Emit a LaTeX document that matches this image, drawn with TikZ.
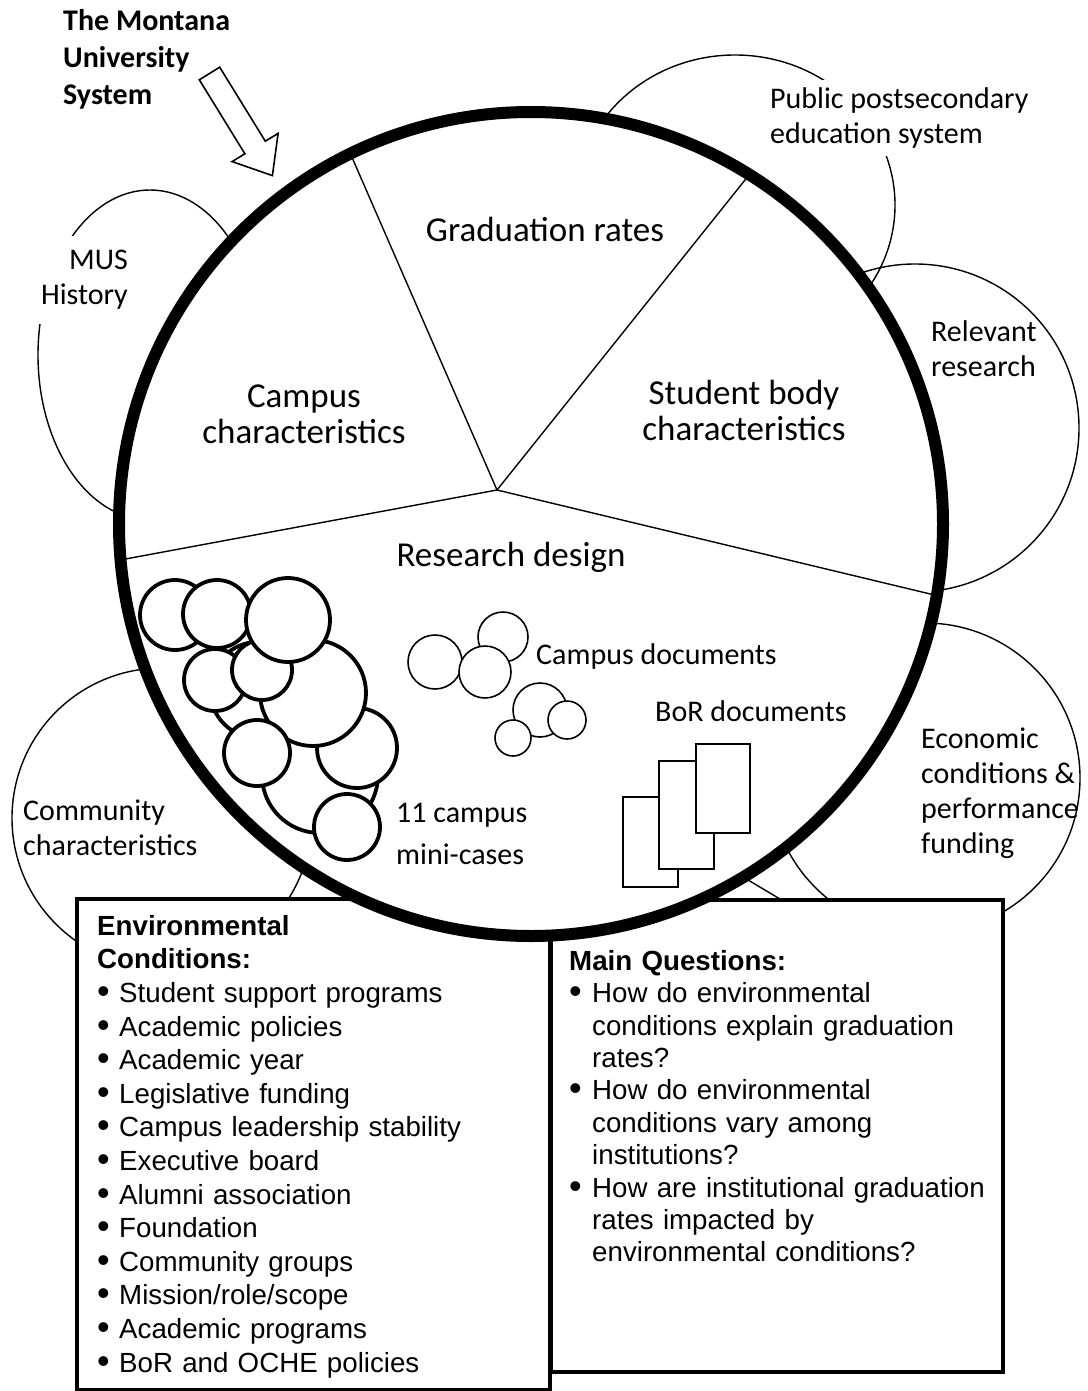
\documentclass[tikz,border=0pt]{standalone}
\usepackage{fontspec}
\setmainfont{Carlito}
\newfontfamily\arialfont{Liberation Sans}
\usetikzlibrary{positioning}

\newcommand{\bitem}[3]{\par\hangindent=#2\hangafter=1\noindent\hspace*{#1}\makebox[\dimexpr#2-#1\relax][l]{\raisebox{-1pt}{\scalebox{1.3}{\textbullet}}}#3}

\begin{document}
\begin{tikzpicture}[
x=1pt, y=-1pt,
bubble/.style={line width=1.4pt},
slice/.style={line width=1.4pt},
minicase/.style={draw, circle, fill=white, line width=3.8pt, inner sep=0pt},
campdoc/.style={draw, circle, fill=white, line width=1.6pt, inner sep=0pt},
sheet/.style={draw, rectangle, fill=white, line width=1.6pt, inner sep=0pt, anchor=north west},
infobox/.style={draw, rectangle, fill=white, line width=4pt, inner sep=0pt, anchor=north west},
inlabel/.style={align=center, inner sep=0pt, font=\fontsize{35}{36}\selectfont},
outlabel/.style={align=left, inner sep=0pt, anchor=west, font=\fontsize{30}{35}\selectfont},
listtext/.style={anchor=north west, inner sep=0pt, align=left, text width=430pt},
]
\useasboundingbox (0,0) rectangle (1087,1391);

% bubbles round the system
\draw[bubble] (150,355) ellipse [x radius=112pt, y radius=165pt];
\draw[bubble] (735,205) ellipse [x radius=160pt, y radius=150pt];
\draw[bubble] (915,428) circle [radius=164pt];
\draw[bubble] (925,778) circle [radius=155pt];
\draw[bubble] (162,818) circle [radius=150pt];
\draw[bubble] (738,874) -- (780,899);

% the two boxes
\node[infobox, minimum width=473pt, minimum height=491pt] (envbox) at (75,897) {};
\node[infobox, minimum width=452pt, minimum height=472pt] (quesbox) at (549,898) {};

\node[listtext, font=\arialfont\fontsize{27.7}{33.6}\selectfont] (envlist) at (97,915) {%
{\bfseries Environmental\newline Conditions:}
\bitem{0pt}{22pt}{Student support programs}
\bitem{0pt}{22pt}{Academic policies}
\bitem{0pt}{22pt}{Academic year}
\bitem{0pt}{22pt}{Legislative funding}
\bitem{0pt}{22pt}{Campus leadership stability}
\bitem{0pt}{22pt}{Executive board}
\bitem{0pt}{22pt}{Alumni association}
\bitem{0pt}{22pt}{Foundation}
\bitem{0pt}{22pt}{Community groups}
\bitem{0pt}{22pt}{Mission/role/scope}
\bitem{0pt}{22pt}{Academic programs}
\bitem{0pt}{22pt}{BoR and OCHE policies}\par};

\node[listtext, font=\arialfont\fontsize{27.7}{32.4}\selectfont] (queslist) at (569,950) {%
{\bfseries Main Questions:}
\bitem{0pt}{23pt}{How do environmental\newline conditions explain graduation\newline rates?}
\bitem{0pt}{23pt}{How do environmental\newline conditions vary among\newline institutions?}
\bitem{0pt}{23pt}{How are institutional graduation\newline rates impacted by\newline environmental conditions?}\par};

% the system circle
\node[draw, circle, fill=white, line width=12pt, minimum size=824pt,
      inner sep=0pt, outer sep=0pt] (ring) at (531,524) {};
\coordinate (hub) at (497,490);
\draw[slice] (hub) -- (ring.116);
\draw[slice] (hub) -- (ring.58);
\draw[slice] (hub) -- (ring.185);
\draw[slice] (hub) -- (ring.350);

\node[inlabel] (gradrates) at (545,229) {Graduation rates};
\node[inlabel] (campchar) at (304,414) {Campus\\characteristics};
\node[inlabel] (studchar) at (744,410) {Student body\\characteristics};
\node[inlabel] (design) at (511,557) {Research design};

% 11 mini-cases
\node[minicase, minimum size=116pt] (case10) at (320,775) {};
\node[minicase, minimum size=96pt] (case11) at (258,690) {};
\node[minicase, minimum size=80pt] (case8) at (357,748) {};
\node[minicase, minimum size=106pt] (case6) at (313,693) {};
\node[minicase, minimum size=62pt] (case4) at (215,680) {};
\node[minicase, minimum size=60pt] (case5) at (262,670) {};
\node[minicase, minimum size=70pt] (case1) at (175,615) {};
\node[minicase, minimum size=68pt] (case2) at (217,614) {};
\node[minicase, minimum size=84pt] (case3) at (288,620) {};
\node[minicase, minimum size=66pt] (case7) at (257,753) {};
\node[minicase, minimum size=66pt] (case9) at (347,827) {};
\node[outlabel] (minicases) at (396,834) {11 campus\\[7pt]mini-cases};

% campus documents
\node[campdoc, minimum size=54pt] (doc1) at (435,662) {};
\node[campdoc, minimum size=50pt] (doc2) at (503,637) {};
\node[campdoc, minimum size=52pt] (doc3) at (485,672) {};
\node[campdoc, minimum size=54pt] (doc4) at (540,710) {};
\node[campdoc, minimum size=36pt] (doc5) at (513,738) {};
\node[campdoc, minimum size=38pt] (doc6) at (567,720) {};
\node[outlabel] (campdocs) at (536,656) {Campus documents};

% BoR documents
\node[sheet, minimum width=55pt, minimum height=90pt] (sheet1) at (622,796) {};
\node[sheet, minimum width=55pt, minimum height=108pt] (sheet2) at (658,760) {};
\node[sheet, minimum width=54pt, minimum height=89pt] (sheet3) at (695,743) {};
\node[outlabel] (bordocs) at (655,711) {BoR documents};

% outer labels
\node[outlabel, anchor=east, align=right, fill=white, inner xsep=6pt, inner ysep=14pt] (mushist) at (134,280) {MUS\\History};
\node[outlabel, fill=white, inner xsep=6pt, inner ysep=8pt] (pubsys) at (764,118) {Public postsecondary\\education system};
\node[outlabel] (relres) at (931,349) {Relevant\\research};
\node[outlabel] (econ) at (921,793) {Economic\\conditions \&\\performance\\funding};
\node[outlabel] (commchar) at (23,828) {Community\\characteristics};
\node[outlabel, font=\bfseries\fontsize{30}{37}\selectfont] (mussys) at (63,59) {The Montana\\University\\System};

% hollow arrow into the circle
\draw[line width=1.6pt, fill=white] (219.7,67.2) -- (265.3,141.2) -- (278.1,133.4)
  -- (272.4,175.6) -- (232.1,161.6) -- (244.9,153.8) -- (199.3,79.8) -- cycle;
\end{tikzpicture}
\end{document}
